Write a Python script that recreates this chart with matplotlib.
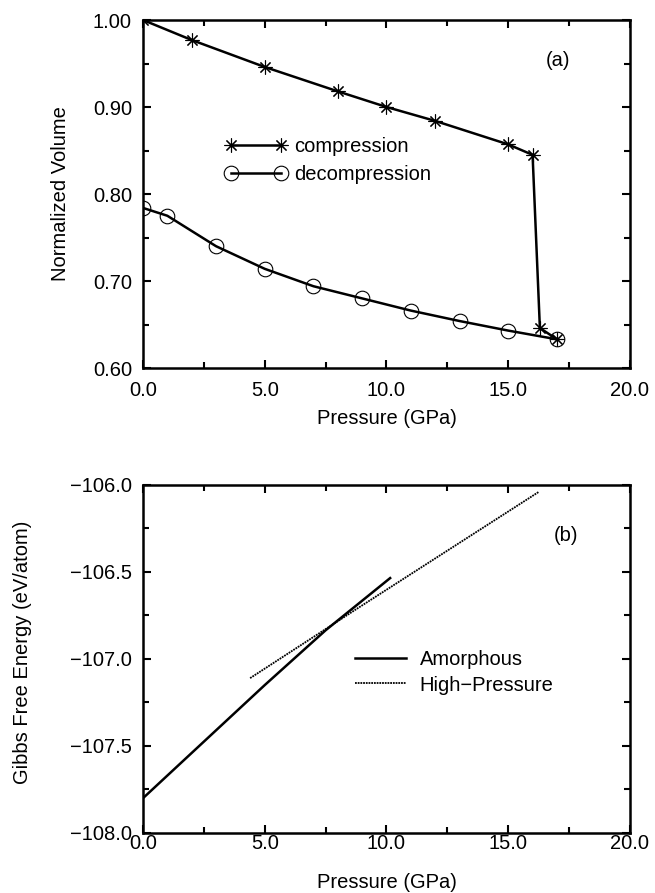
import numpy as np
import matplotlib.pyplot as plt
from matplotlib.ticker import MultipleLocator, FormatStrFormatter, FuncFormatter

plt.rcParams['font.family'] = ['Liberation Sans', 'DejaVu Sans']

FS = 14.5

# panel (a): normalized volume vs pressure
p_comp = [0.0, 2.0, 5.0, 8.0, 10.0, 12.0, 15.0, 16.0, 16.3, 17.0]
v_comp = [1.000, 0.977, 0.946, 0.918, 0.900, 0.884, 0.857, 0.845, 0.646, 0.633]

p_decomp = [17.0, 15.0, 13.0, 11.0, 9.0, 7.0, 5.0, 3.0, 1.0, 0.0]
v_decomp = [0.633, 0.643, 0.654, 0.666, 0.680, 0.694, 0.714, 0.740, 0.775, 0.784]

# panel (b): Gibbs free energy vs pressure
p_amor = [0.0, 2.5, 5.0, 7.5, 10.15]
g_amor = [-107.80, -107.475, -107.15, -106.835, -106.535]

p_hp = [4.4, 8.8, 16.25]
g_hp = [-107.11, -106.71, -106.04]

fig = plt.figure(figsize=(6.55, 8.93), dpi=100)
ax1 = fig.add_axes([0.2183, 0.5879, 0.7435, 0.3897])
ax2 = fig.add_axes([0.2183, 0.0672, 0.7435, 0.3897])

star = (8, 2, 0)

ax1.plot(p_comp, v_comp, color='black', lw=1.8, marker=star, ms=10,
         mew=0.8, label='compression')
ax1.plot(p_decomp, v_decomp, color='black', lw=1.8, marker='o', ms=10.5,
         mfc='none', mew=0.8, label='decompression')

ax1.set_xlim(0, 20)
ax1.set_ylim(0.6, 1.0)
ax1.xaxis.set_major_locator(MultipleLocator(5))
ax1.xaxis.set_minor_locator(MultipleLocator(2.5))
ax1.yaxis.set_major_locator(MultipleLocator(0.1))
ax1.yaxis.set_minor_locator(MultipleLocator(0.05))
ax1.xaxis.set_major_formatter(FormatStrFormatter('%.1f'))
ax1.yaxis.set_major_formatter(FormatStrFormatter('%.2f'))
ax1.set_xlabel('Pressure (GPa)', fontsize=FS)
ax1.set_ylabel('Normalized Volume', fontsize=FS)
ax1.xaxis.set_label_coords(0.5, -0.144)
ax1.yaxis.set_label_coords(-0.170, 0.5)
ax1.text(0.852, 0.885, '(a)', transform=ax1.transAxes, fontsize=FS,
         ha='center', va='center')
ax1.legend(loc='center left', bbox_to_anchor=(0.169, 0.595), frameon=False,
           fontsize=FS, handlelength=3.05, handletextpad=0.36,
           labelspacing=0.45, numpoints=2, borderaxespad=0, borderpad=0)
ax1.tick_params(axis='x', which='major', pad=9)

ax2.plot(p_amor, g_amor, color='black', lw=1.8, label='Amorphous')
ax2.plot(p_hp, g_hp, color='black', lw=1.3, ls=(0, (1.0, 0.5)),
         label='High\u2212Pressure')

ax2.set_xlim(0, 20)
ax2.set_ylim(-108.0, -106.0)
ax2.xaxis.set_major_locator(MultipleLocator(5))
ax2.xaxis.set_minor_locator(MultipleLocator(2.5))
ax2.yaxis.set_major_locator(MultipleLocator(0.5))
ax2.yaxis.set_minor_locator(MultipleLocator(0.25))
ax2.xaxis.set_major_formatter(FormatStrFormatter('%.1f'))
ax2.yaxis.set_major_formatter(
    FuncFormatter(lambda v, pos: ('%.1f' % v).replace('-', '\u2212')))
ax2.set_xlabel('Pressure (GPa)', fontsize=FS)
ax2.set_ylabel('Gibbs Free Energy (eV/atom)', fontsize=FS)
ax2.xaxis.set_label_coords(0.5, -0.141)
ax2.yaxis.set_label_coords(-0.248, 0.52)
ax2.text(0.869, 0.856, '(b)', transform=ax2.transAxes, fontsize=FS,
         ha='center', va='center')
ax2.legend(loc='center left', bbox_to_anchor=(0.435, 0.462), frameon=False,
           fontsize=FS, handlelength=2.55, handletextpad=0.66,
           labelspacing=0.33, numpoints=1, borderaxespad=0, borderpad=0)
ax2.tick_params(axis='x', which='major', pad=1)

for ax in (ax1, ax2):
    ax.xaxis.label.set_va('center')
    ax.yaxis.label.set_va('center')
    for s in ax.spines.values():
        s.set_linewidth(1.8)
    ax.tick_params(which='both', direction='in', top=True, right=True,
                   width=1.5, labelsize=FS)
    ax.tick_params(axis='y', which='major', pad=8)
    ax.tick_params(which='major', length=6)
    ax.tick_params(which='minor', length=4)

fig.savefig('out.png', dpi=100)
